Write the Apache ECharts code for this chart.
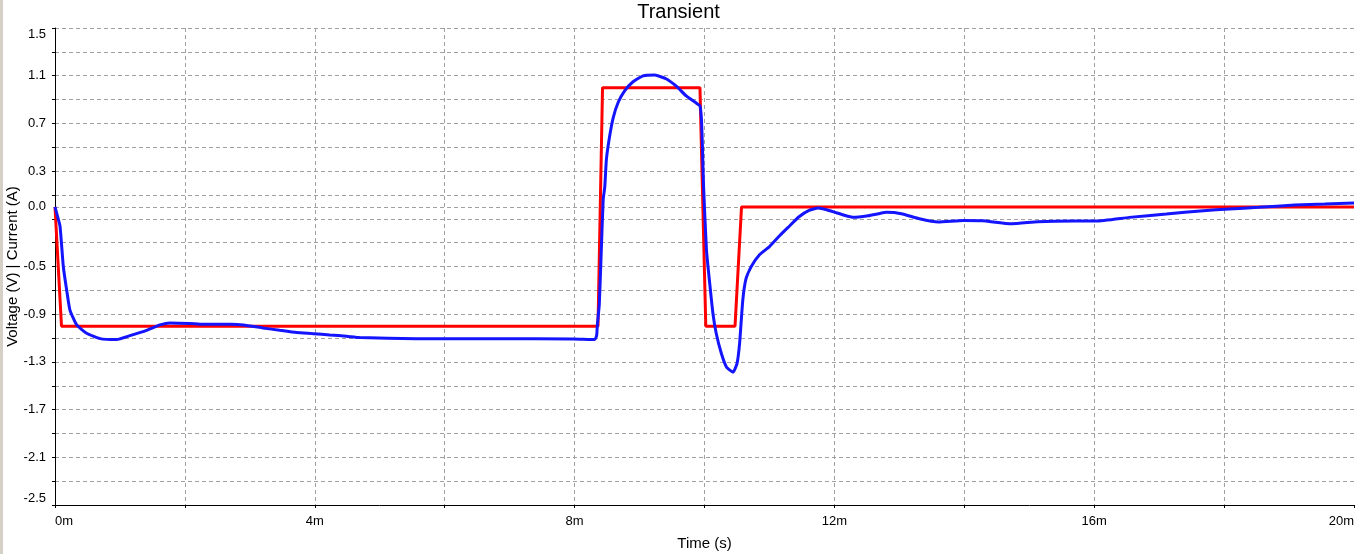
<!DOCTYPE html>
<html>
<head>
<meta charset="utf-8">
<script src="https://cdn.jsdelivr.net/npm/echarts@6/dist/echarts.min.js"></script>
<style>
html,body{margin:0;padding:0;background:#fff;}
#chart{width:1357px;height:554px;}
</style>
</head>
<body>
<div id="chart"></div>
<script>
// ---- data (time in ms, value in V / A) ----
const redTime  = [0, 0.1, 8.36, 8.43, 9.93, 10.02, 10.47, 10.57, 20];
const redValue = [0, -1.0, -1.0, 1.0, 1.0, -1.0, -1.0, 0, 0];

const blueTime = [0, 0.03, 0.077, 0.128, 0.18, 0.23, 0.334, 0.487, 0.693, 0.95,
  1.154, 1.41, 1.616, 1.77, 2.08, 2.28, 2.7, 2.9, 3.2, 3.46, 3.72, 3.98, 4.23,
  4.49, 4.69, 5.56, 6.8, 7.98, 8.31, 8.34, 8.35, 8.38, 8.41, 8.44, 8.465, 8.49,
  8.54, 8.595, 8.67, 8.77, 8.9, 9.055, 9.235, 9.415, 9.57, 9.72, 9.877, 9.93,
  9.953, 9.968, 9.985, 10.03, 10.08, 10.13, 10.18, 10.26, 10.34, 10.44, 10.5,
  10.54, 10.59, 10.64, 10.72, 10.85, 11.0, 11.16, 11.31, 11.45, 11.61, 11.75,
  11.88, 12.01, 12.15, 12.29, 12.52, 12.7, 12.8, 13.03, 13.31, 13.6, 13.99,
  14.28, 14.73, 15.13, 15.69, 16.03, 16.54, 17.11, 17.68, 18.08, 18.53, 19.09,
  19.55, 20.0];
const blueValue = [0, -0.06, -0.16, -0.5, -0.7, -0.866, -0.99, -1.06, -1.105, -1.113,
  -1.08, -1.035, -0.99, -0.973, -0.978, -0.985, -0.985, -0.99, -1.015, -1.035, -1.054, -1.063, -1.074,
  -1.085, -1.096, -1.105, -1.105, -1.108, -1.113, -1.077, -0.99, -0.82, -0.38, 0.06, 0.17, 0.4,
  0.594, 0.749, 0.875, 0.973, 1.049, 1.099, 1.105, 1.072, 1.01, 0.93, 0.869, 0.847,
  0.735, 0.51, 0.18, -0.36, -0.64, -0.894, -1.06, -1.23, -1.345, -1.386, -1.315,
  -1.147, -0.78, -0.6, -0.5, -0.4, -0.333, -0.24, -0.16, -0.085, -0.03, -0.01,
  -0.024, -0.046, -0.07, -0.088, -0.074, -0.055, -0.046, -0.057, -0.1, -0.127, -0.114,
  -0.116, -0.142, -0.125, -0.119, -0.119, -0.088, -0.06, -0.032, -0.018, -0.004, 0.016,
  0.024, 0.033];

const xLabelValues = [0, 4, 8, 12, 16, 20];
const yLabelValues = [1.5, 1.1, 0.7, 0.3, -0.5, -0.9, -1.3, -1.7, -2.1, -2.5];
const yZeroLabel = '0.0';

// ---- build ----
const zip = (a, b) => a.map((v, i) => [v, b[i]]);
const FONT = 'Liberation Sans';
const gridLine = { color: '#a0a0a0', type: [4, 3], width: 1 };

const chart = echarts.init(document.getElementById('chart'), null, { renderer: 'canvas' });
chart.setOption({
  animation: false,
  backgroundColor: '#ffffff',
  title: {
    text: 'Transient', left: 'center', top: 2, padding: 0,
    textStyle: { fontFamily: FONT, fontSize: 20, fontWeight: 'normal', color: '#000' }
  },
  graphic: [{ type: 'rect', left: 0, top: 0, shape: { width: 3, height: 554 }, style: { fill: '#d4d0c8' }, silent: true }],
  grid: { left: 55, right: 3, top: 28, bottom: 49, containLabel: false, outerBoundsMode: 'none' },
  xAxis: {
    type: 'value', min: 0, max: 20, interval: 2,
    name: 'Time (s)', nameLocation: 'middle', nameGap: 31, nameMoveOverlap: false,
    nameTextStyle: { fontFamily: FONT, fontSize: 15, color: '#000' },
    axisLine: { show: true, onZero: false, lineStyle: { color: '#000', width: 1 } },
    axisTick: { show: true, length: 3, lineStyle: { color: '#000' } },
    axisLabel: {
      fontFamily: FONT, fontSize: 13, color: '#000', margin: 10,
      alignMinLabel: 'left', alignMaxLabel: 'right',
      formatter: v => xLabelValues.some(x => Math.abs(x - v) < 1e-9) ? Math.round(v) + 'm' : ''
    },
    splitLine: { show: true, showMinLine: false, showMaxLine: false, lineStyle: gridLine }
  },
  yAxis: [{
    type: 'value', min: -2.5, max: 1.5, interval: 0.2, position: 'left',
    name: 'Voltage (V) | Current (A)', nameLocation: 'middle', nameGap: 35, nameMoveOverlap: false,
    nameTextStyle: { fontFamily: FONT, fontSize: 15, color: '#000' },
    axisLine: { show: true, onZero: false, lineStyle: { color: '#000', width: 1 } },
    axisTick: { show: true, length: 3, lineStyle: { color: '#000' } },
    axisLabel: {
      fontFamily: FONT, fontSize: 13, color: '#000', margin: 9,
      verticalAlignMaxLabel: 'top', verticalAlignMinLabel: 'bottom',
      formatter: v => {
        const hit = yLabelValues.find(y => Math.abs(y - v) < 1e-6);
        return hit === undefined ? '' : hit.toFixed(1);
      }
    },
    splitLine: { show: true, showMinLine: false, showMaxLine: true, lineStyle: gridLine }
  }, {
    type: 'value', min: -2.5, max: 1.5, interval: 2.5, position: 'left', offset: 0,
    axisLine: { show: false },
    axisTick: { show: false },
    axisLabel: {
      fontFamily: FONT, fontSize: 13, color: '#000', margin: 9,
      formatter: v => Math.abs(v) < 1e-9 ? yZeroLabel : ''
    },
    splitLine: { show: true, showMinLine: false, showMaxLine: false, lineStyle: gridLine }
  }],
  series: [{
    type: 'line', name: 'red', data: zip(redTime, redValue), yAxisIndex: 0,
    showSymbol: false, symbol: 'none', z: 2,
    lineStyle: { color: '#ff0000', width: 3 }
  }, {
    type: 'line', name: 'blue', data: zip(blueTime, blueValue), yAxisIndex: 0,
    showSymbol: false, symbol: 'none', z: 3, smooth: 0.15,
    lineStyle: { color: '#1414ff', width: 3 }
  }]
});
</script>
</body>
</html>
